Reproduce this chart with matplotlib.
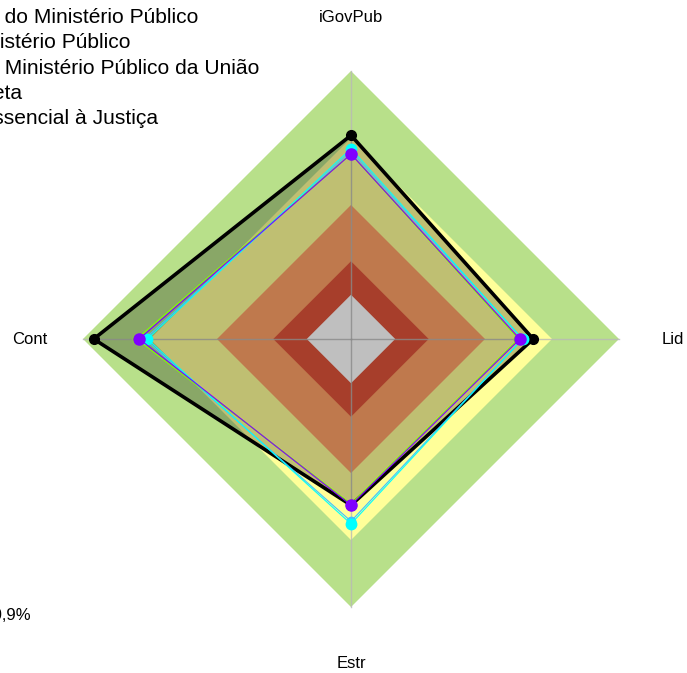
import numpy as np
import matplotlib.pyplot as plt
from matplotlib.patches import Polygon

plt.rcParams['font.family'] = ['Liberation Sans', 'DejaVu Sans']

# axes of the radar, clockwise from top
eixos = ['iGovPub', 'Lid', 'Estr', 'Cont']
angulos = np.deg2rad([90, 0, 270, 180])

# background bands (outer radius, colour)
faixas = [1.0, 0.75, 0.5, 0.29, 0.165]
cores_faixas = ['#B8E08A', '#FFFF99', '#FFA268', '#E0543A', '#FFFFFF']

# series (iGovPub, Lid, Estr, Cont)
nomes = ['Segmento do Ministério Público',
         'Média Ministério Público',
         'Ramos do Ministério Público da União',
         'Média Direta',
         'Função Essencial à Justiça']
valores = [
    [0.76, 0.68, 0.62, 0.96],
    [0.71, 0.64, 0.69, 0.76],
    [0.69, 0.63, 0.62, 0.79],
    [0.69, 0.625, 0.615, 0.80],
    [0.70, 0.64, 0.68, 0.77],
]
cores = ['black', '#00FFFF', '#8000FF', '#80FF00', '#40C0FF']
larguras = [2.6, 0.8, 0.8, 0.8, 0.8]
marcas = [7, 7.5, 8, 6, 6]


def xy(r):
    r = np.asarray(r, dtype=float)
    return r * np.cos(angulos), r * np.sin(angulos)


fig = plt.figure(figsize=(6.87, 6.73), dpi=100)
ax = fig.add_axes([0, 0, 1, 1])
esc = 268.0
ax.set_xlim(-351 / esc, (687 - 351) / esc)
ax.set_ylim(-(673 - 339) / esc, 339 / esc)
ax.axis('off')

for r, c in zip(faixas, cores_faixas):
    x, y = xy([r] * 4)
    ax.add_patch(Polygon(np.column_stack([x, y]), closed=True, facecolor=c,
                         edgecolor='none', zorder=1))

# spokes
for a in angulos:
    ax.plot([0, np.cos(a)], [0, np.sin(a)], color='#B8B8B8', lw=1, alpha=0.8, zorder=2)

# black series fill
x, y = xy(valores[0])
ax.add_patch(Polygon(np.column_stack([x, y]), closed=True, facecolor='black',
                     alpha=0.25, edgecolor='none', zorder=3))

ordem = [0, 4, 3, 1, 2]
handles = {}
for i in ordem:
    x, y = xy(valores[i])
    ln, = ax.plot(np.append(x, x[0]), np.append(y, y[0]), color=cores[i], lw=larguras[i],
                  marker='o', markersize=marcas[i], markevery=[0, 1, 2, 3],
                  zorder=4 + ordem.index(i), label=nomes[i])
    handles[i] = ln

# axis labels
for nome, a in zip(eixos, angulos):
    rr = 1.21 if nome == 'Estr' else 1.2
    ax.text(rr * np.cos(a), rr * np.sin(a), nome, ha='center', va='center',
            fontsize=12, color='black')

ax.text(-1.195, -1.032, 'iGovPub: 60,9%', ha='right', va='center', fontsize=12)

fig.legend([handles[i] for i in range(5)], nomes, loc='upper left',
           bbox_to_anchor=(-155.5 / 687, 1 - 8 / 673), frameon=False, fontsize=15.1,
           borderpad=0, handlelength=2, handletextpad=0.8, labelspacing=0.3,
           borderaxespad=0)

fig.savefig('out.png', dpi=100)
